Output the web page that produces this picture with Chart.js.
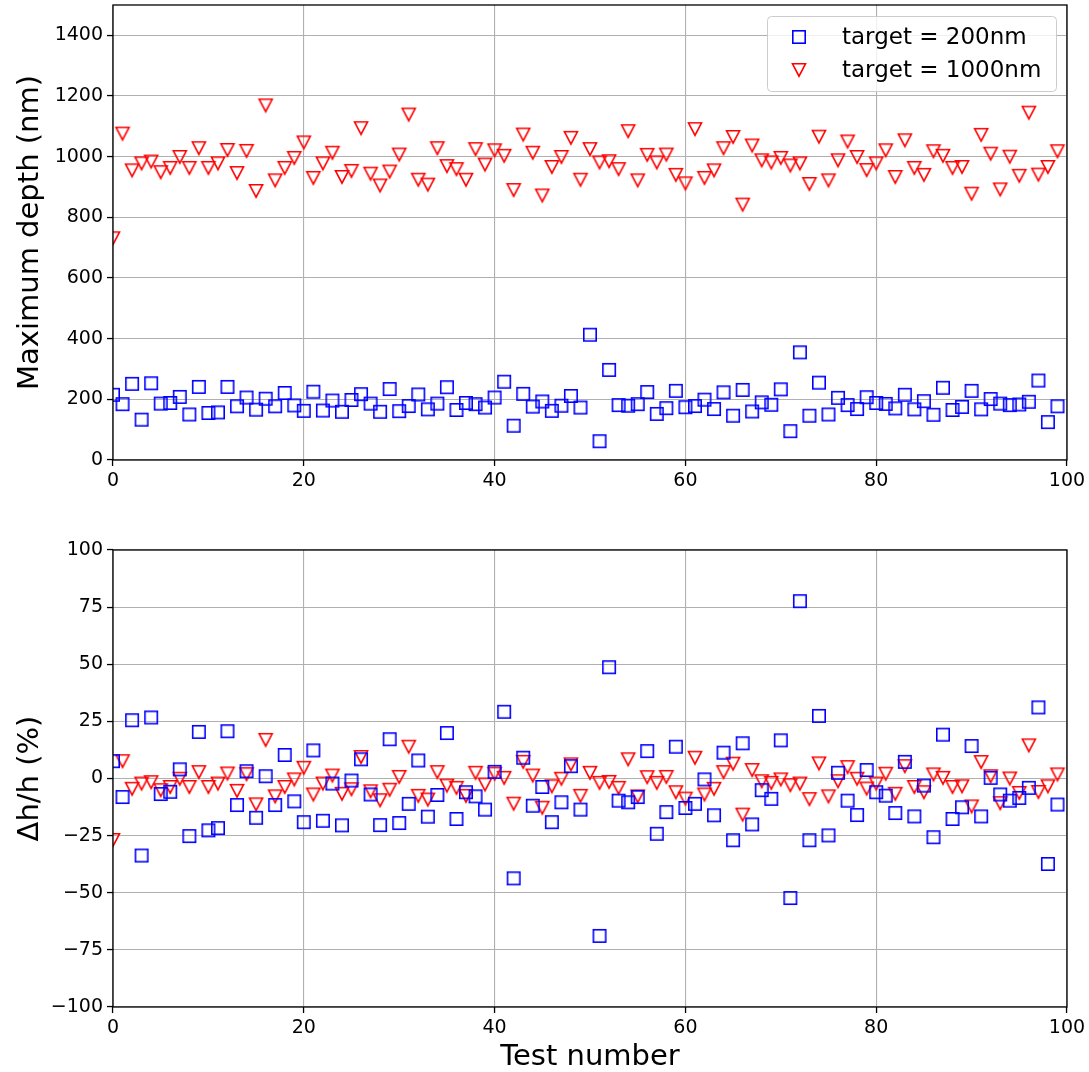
<!DOCTYPE html>
<html>
<head>
<meta charset="utf-8">
<script src="https://cdn.jsdelivr.net/npm/chart.js@4"></script>
<style>
  html, body { margin: 0; padding: 0; background: #fff; }
  #wrap { position: relative; width: 1089px; height: 1072px; }
  .panel { position: absolute; left: 0; }
  #topPanel { top: 0; }
  #bottomPanel { top: 500px; }
</style>
</head>
<body>
<div id="wrap">
  <div class="panel" id="topPanel"><canvas id="depthChart" width="1089" height="500"></canvas></div>
  <div class="panel" id="bottomPanel"><canvas id="deltaChart" width="1089" height="572"></canvas></div>
</div>
<script>
// test number for every run
const testNumbers = [
    0, 1, 2, 3, 4, 5, 6, 7, 8, 9, 10, 11, 12, 13, 14, 15, 16, 17, 18, 19,
    20, 21, 22, 23, 24, 25, 26, 27, 28, 29, 30, 31, 32, 33, 34, 35, 36, 37, 38, 39,
    40, 41, 42, 43, 44, 45, 46, 47, 48, 49, 50, 51, 52, 53, 54, 55, 56, 57, 58, 59,
    60, 61, 62, 63, 64, 65, 66, 67, 68, 69, 70, 71, 72, 73, 74, 75, 76, 77, 78, 79,
    80, 81, 82, 83, 84, 85, 86, 87, 88, 89, 90, 91, 92, 93, 94, 95, 96, 97, 98, 99
];

const seriesNames = ['target = 200nm', 'target = 1000nm'];

// maximum depth (nm)
const depth200 = [
    215, 184, 251, 133, 253, 186, 188, 208, 150, 241, 155, 157, 241, 177, 206, 166, 202, 177, 221, 180,
    162, 225, 163, 196, 159, 198, 217, 186, 159, 234, 161, 178, 216, 167, 186, 240, 165, 188, 184, 173,
    206, 258, 113, 218, 176, 193, 162, 179, 211, 173, 413, 62, 297, 181, 179, 184, 224, 152, 171, 228,
    174, 178, 199, 168, 223, 146, 231, 160, 190, 182, 233, 95, 355, 146, 255, 150, 205, 181, 168, 207,
    188, 185, 170, 215, 167, 194, 149, 238, 165, 175, 228, 167, 201, 186, 181, 183, 192, 262, 125, 177
];
const depth1000 = [
    731, 1076, 955, 978, 984, 949, 963, 999, 963, 1028, 963, 978, 1022, 946, 1019, 887, 1169, 922, 963, 996,
    1047, 930, 978, 1013, 933, 953, 1094, 944, 905, 951, 1007, 1139, 924, 908, 1028, 969, 959, 924, 1025, 974,
    1021, 1003, 890, 1073, 1013, 872, 966, 999, 1062, 924, 1025, 981, 985, 959, 1084, 922, 1006, 981, 1007, 940,
    912, 1091, 930, 955, 1028, 1065, 842, 1037, 988, 981, 996, 971, 978, 910, 1066, 922, 988, 1050, 999, 956,
    978, 1021, 933, 1054, 963, 940, 1018, 1003, 963, 966, 878, 1072, 1010, 892, 1000, 937, 1145, 941, 966, 1018
];

// relative depth error (%)
const delta200 = [
    7.6, -8.1, 25.5, -33.7, 26.7, -6.8, -5.8, 4.0, -25.2, 20.4, -22.7, -21.7, 20.7, -11.6, 3.2, -17.2, 1.0, -11.6, 10.3, -10.0,
    -19.1, 12.3, -18.5, -2.2, -20.5, -0.9, 8.4, -7.0, -20.4, 17.2, -19.5, -11.1, 7.9, -16.7, -7.2, 19.9, -17.7, -6.0, -7.8, -13.6,
    2.9, 29.2, -43.7, 9.1, -11.9, -3.7, -19.1, -10.4, 5.4, -13.6, 106.5, -68.9, 48.7, -9.7, -10.4, -8.1, 12.0, -24.2, -14.7, 13.9,
    -12.9, -11.1, -0.4, -16.1, 11.3, -27.0, 15.4, -20.1, -5.1, -8.9, 16.7, -52.3, 77.6, -27.0, 27.4, -24.9, 2.5, -9.7, -16.0, 3.7,
    -6.0, -7.5, -15.1, 7.3, -16.6, -3.1, -25.7, 19.2, -17.7, -12.6, 14.2, -16.6, 0.3, -7.0, -9.7, -8.5, -4.1, 31.1, -37.4, -11.4
];
const delta1000 = [
    -26.9, 7.6, -4.5, -2.2, -1.6, -5.1, -3.7, -0.1, -3.7, 2.8, -3.7, -2.2, 2.2, -5.4, 1.9, -11.3, 16.9, -7.8, -3.7, -0.4,
    4.7, -7.0, -2.2, 1.3, -6.7, -4.7, 9.4, -5.6, -9.5, -4.9, 0.7, 13.9, -7.6, -9.2, 2.8, -3.1, -4.1, -7.6, 2.5, -2.6,
    2.1, 0.3, -11.0, 7.3, 1.3, -12.8, -3.4, -0.1, 6.2, -7.6, 2.5, -1.9, -1.5, -4.1, 8.4, -7.8, 0.6, -1.9, 0.7, -6.0,
    -8.8, 9.1, -7.0, -4.5, 2.8, 6.5, -15.8, 3.7, -1.2, -1.9, -0.4, -2.9, -2.2, -9.0, 6.6, -7.8, -1.2, 5.0, -0.1, -4.4,
    -2.2, 2.1, -6.7, 5.4, -3.7, -6.0, 1.8, 0.3, -3.7, -3.4, -12.2, 7.2, 1.0, -10.8, 0.0, -6.3, 14.5, -5.9, -3.4, 1.8
];

const FONT = "'DejaVu Sans', sans-serif";

// matplotlib-like open markers drawn once and reused as point styles
function makeSquareMarker() {
    const c = document.createElement('canvas');
    c.width = 18; c.height = 18;
    const ctx = c.getContext('2d');
    ctx.strokeStyle = '#0000ff';
    ctx.lineWidth = 1.6;
    ctx.strokeRect(2.8, 2.8, 12.4, 12.4);
    return c;
}

function makeTriangleMarker() {
    const c = document.createElement('canvas');
    c.width = 18; c.height = 18;
    const ctx = c.getContext('2d');
    ctx.strokeStyle = '#ff0000';
    ctx.lineWidth = 1.6;
    ctx.lineJoin = 'miter';
    ctx.beginPath();
    ctx.moveTo(2.5, 2.8);
    ctx.lineTo(15.5, 2.8);
    ctx.lineTo(9, 15.2);
    ctx.closePath();
    ctx.stroke();
    return c;
}

const squareMarker = makeSquareMarker();
const triangleMarker = makeTriangleMarker();

function toPoints(values) {
    return testNumbers.map((x, i) => ({x: x, y: values[i]}));
}

function makeDataset(label, values, marker) {
    return {
        label: label,
        data: toPoints(values),
        pointStyle: marker,
        pointRadius: 9,
        pointHoverRadius: 9,
        showLine: false,
        clip: 0
    };
}

// full box around the plot area, like matplotlib spines
const framePlugin = {
    id: 'frame',
    afterDatasetsDraw(chart) {
        const a = chart.chartArea;
        const ctx = chart.ctx;
        ctx.save();
        ctx.strokeStyle = '#000';
        ctx.lineWidth = 1.3;
        ctx.strokeRect(a.left, a.top, a.right - a.left, a.bottom - a.top);
        ctx.restore();
    }
};

// legend box in the upper right corner of the top panel
const legendPlugin = {
    id: 'boxLegend',
    afterDraw(chart) {
        const ctx = chart.ctx;
        const x = 767.5, y = 16.5, w = 289, h = 75, r = 4;
        ctx.save();
        ctx.beginPath();
        ctx.roundRect(x, y, w, h, r);
        ctx.fillStyle = 'rgba(255,255,255,0.8)';
        ctx.fill();
        ctx.strokeStyle = '#cccccc';
        ctx.lineWidth = 1;
        ctx.stroke();
        const markers = [squareMarker, triangleMarker];
        const rows = [37, 70];
        ctx.font = '23px ' + FONT;
        ctx.fillStyle = '#000';
        ctx.textBaseline = 'middle';
        seriesNames.forEach((name, i) => {
            ctx.drawImage(markers[i], 799 - 9, rows[i] - 9);
            ctx.fillText(name, 842, rows[i] + 1);
        });
        ctx.restore();
    }
};

function minusLabel(v) {
    return v < 0 ? '\u2212' + Math.abs(v) : String(v);
}

function makeOptions(cfg) {
    return {
        responsive: false,
        animation: false,
        layout: {autoPadding: false, padding: {top: cfg.padTop, right: 22, bottom: 0, left: 0}},
        plugins: {
            legend: {display: false},
            tooltip: {enabled: false}
        },
        scales: {
            x: {
                type: 'linear',
                min: 0,
                max: 100,
                border: {display: false},
                grid: {color: '#b0b0b0', lineWidth: 1.1, tickLength: 6, tickColor: '#000', tickWidth: 1.3},
                ticks: {stepSize: 20, color: '#000', padding: 4, maxRotation: 0, font: {family: FONT, size: 19}},
                title: {
                    display: !!cfg.xTitle,
                    text: cfg.xTitle || '',
                    color: '#000',
                    padding: {top: 0, bottom: 0},
                    font: {family: FONT, size: 29, lineHeight: 1.0}
                },
                afterFit(scale) {
                    scale.height = cfg.xHeight;
                    scale.paddingLeft = 0;
                    scale.paddingRight = 0;
                }
            },
            y: {
                type: 'linear',
                min: cfg.yMin,
                max: cfg.yMax,
                border: {display: false},
                grid: {color: '#b0b0b0', lineWidth: 1.1, tickLength: 6, tickColor: '#000', tickWidth: 1.3},
                ticks: {stepSize: cfg.yStep, color: '#000', padding: 4, font: {family: FONT, size: 19}, callback: minusLabel},
                title: {
                    display: true,
                    text: cfg.yTitle,
                    color: '#000',
                    padding: {top: 13, bottom: 0},
                    font: {family: FONT, size: 29, lineHeight: 1.2}
                },
                afterBuildTicks(scale) {
                    scale.ticks = scale.ticks.filter(t => t.value % cfg.yStep === 0);
                },
                afterFit(scale) {
                    scale.width = 113;
                    scale.paddingTop = 0;
                    scale.paddingBottom = 0;
                }
            }
        }
    };
}

new Chart(document.getElementById('depthChart'), {
    type: 'scatter',
    data: {
        datasets: [
            makeDataset(seriesNames[0], depth200, squareMarker),
            makeDataset(seriesNames[1], depth1000, triangleMarker)
        ]
    },
    options: makeOptions({padTop: 5, xHeight: 40, yMin: 0, yMax: 1500, yStep: 200, yTitle: 'Maximum depth (nm)'}),
    plugins: [framePlugin, legendPlugin]
});

new Chart(document.getElementById('deltaChart'), {
    type: 'scatter',
    data: {
        datasets: [
            makeDataset(seriesNames[0], delta200, squareMarker),
            makeDataset(seriesNames[1], delta1000, triangleMarker)
        ]
    },
    options: makeOptions({padTop: 50, xHeight: 65, yMin: -100, yMax: 100, yStep: 25, yTitle: '\u0394h/h (%)', xTitle: 'Test number'}),
    plugins: [framePlugin]
});
</script>
</body>
</html>
